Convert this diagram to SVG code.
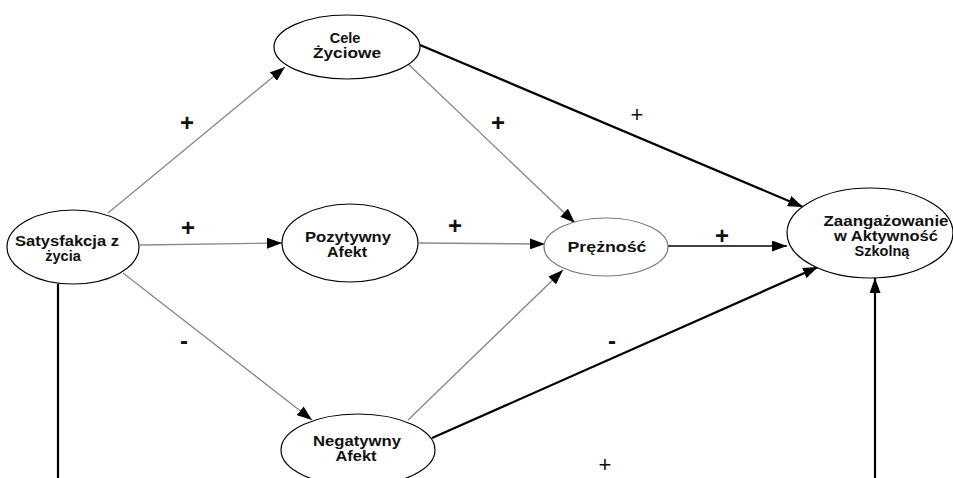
<svg xmlns="http://www.w3.org/2000/svg" width="953" height="478" viewBox="0 0 953 478">
<defs>
<marker id="ah" markerUnits="userSpaceOnUse" markerWidth="15" markerHeight="11" refX="15" refY="5.5" orient="auto">
<path d="M0,0 L15,5.5 L0,11 z" fill="#000"/>
</marker>
<style>
.node{fill:#fff;stroke:#000;stroke-width:1.2}
.lbl{font-family:"Liberation Sans",Arial,sans-serif;font-weight:bold;font-size:14.5px;fill:#111;text-anchor:middle}
.sg{font-family:"Liberation Sans",Arial,sans-serif;font-weight:bold;font-size:24px;fill:#111;text-anchor:middle}
.sn{font-family:"Liberation Sans",Arial,sans-serif;font-size:22px;fill:#111;text-anchor:middle}
.gray{stroke:#8a8a8a;stroke-width:1.4;fill:none}
.blk{stroke:#000;stroke-width:2.2;fill:none}
.thin{stroke:#000;stroke-width:1.3;fill:none}
</style>
</defs>
<rect width="953" height="478" fill="#fff"/>
<g id="connectors">
<line class="gray" x1="108" y1="213" x2="285" y2="67" marker-end="url(#ah)"/>
<line class="gray" x1="140" y1="245" x2="282" y2="243" marker-end="url(#ah)"/>
<line class="gray" x1="123" y1="273" x2="312" y2="420" marker-end="url(#ah)"/>
<line class="gray" x1="407" y1="63" x2="575" y2="223" marker-end="url(#ah)"/>
<line class="gray" x1="419" y1="243" x2="545" y2="244" marker-end="url(#ah)"/>
<line class="gray" x1="408" y1="420" x2="563" y2="270" marker-end="url(#ah)"/>
<line class="blk" x1="420" y1="45" x2="803" y2="207" marker-end="url(#ah)"/>
<line class="thin" x1="668" y1="246" x2="787" y2="246" marker-end="url(#ah)"/>
<line class="blk" x1="432" y1="438" x2="818" y2="267" marker-end="url(#ah)"/>
<line class="blk" x1="58" y1="284" x2="58" y2="478"/>
<line class="blk" x1="875" y1="478" x2="875" y2="278" marker-end="url(#ah)"/>
</g>
<g id="signs">
<text class="sg" x="187" y="131">+</text>
<text class="sg" x="188" y="236">+</text>
<text class="sg" x="184" y="349">-</text>
<text class="sg" x="498" y="131">+</text>
<text class="sg" x="455" y="234">+</text>
<text class="sn" x="637" y="122">+</text>
<text class="sg" x="722" y="244">+</text>
<text class="sg" x="612" y="349">-</text>
<text class="sn" x="605" y="472">+</text>
</g>
<g id="satysfakcja">
<ellipse class="node" cx="73" cy="247" rx="66" ry="37"/>
<text class="lbl" x="67" y="246" textLength="104" lengthAdjust="spacingAndGlyphs">Satysfakcja z</text>
<text class="lbl" x="63" y="261">życia</text>
</g>
<g id="cele">
<ellipse class="node" cx="347" cy="47" rx="73" ry="32"/>
<text class="lbl" x="345" y="43">Cele</text>
<text class="lbl" x="347" y="58" textLength="68" lengthAdjust="spacingAndGlyphs">Życiowe</text>
</g>
<g id="pozytywny">
<ellipse class="node" cx="350" cy="243" rx="68" ry="39"/>
<text class="lbl" x="348" y="242" textLength="86" lengthAdjust="spacingAndGlyphs">Pozytywny</text>
<text class="lbl" x="347" y="257" textLength="40" lengthAdjust="spacingAndGlyphs">Afekt</text>
</g>
<g id="preznosc">
<ellipse class="node" cx="606" cy="247" rx="62" ry="29" style="stroke:#777"/>
<text class="lbl" x="607" y="252" textLength="79" lengthAdjust="spacingAndGlyphs">Prężność</text>
</g>
<g id="zaangazowanie">
<ellipse class="node" cx="870" cy="233" rx="83" ry="45"/>
<text class="lbl" x="886" y="226" textLength="125" lengthAdjust="spacingAndGlyphs">Zaangażowanie</text>
<text class="lbl" x="886" y="241" textLength="104" lengthAdjust="spacingAndGlyphs">w Aktywność</text>
<text class="lbl" x="882" y="256">Szkolną</text>
</g>
<g id="negatywny">
<ellipse class="node" cx="358" cy="450" rx="77" ry="36"/>
<text class="lbl" x="357" y="446" textLength="88" lengthAdjust="spacingAndGlyphs">Negatywny</text>
<text class="lbl" x="356" y="461" textLength="41" lengthAdjust="spacingAndGlyphs">Afekt</text>
</g>
</svg>
